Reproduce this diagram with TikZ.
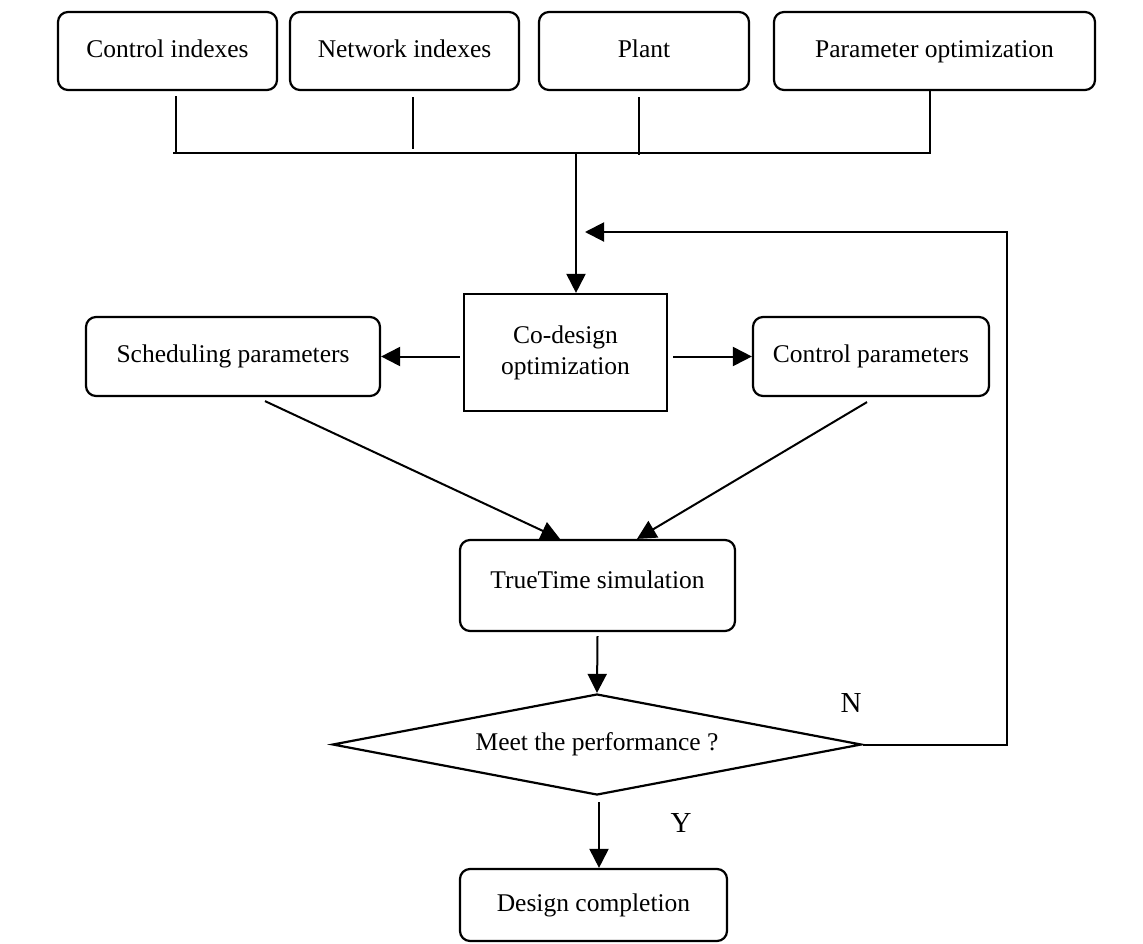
\documentclass[tikz,border=0pt]{standalone}
\usepackage{fontspec}
\setmainfont{Liberation Serif}
\usetikzlibrary{arrows.meta,shapes.geometric}
\begin{document}
\begin{tikzpicture}[x=1pt,y=-1pt,
  every node/.style={font=\fontsize{25.5}{31}\selectfont},
  rbox/.style={draw, line width=2.2pt, rounded corners=10pt, align=center, inner sep=0pt},
  oneline/.style={text height=17pt, text depth=5pt},
  sbox/.style={draw, line width=2.2pt, align=center, inner sep=0pt},
  conn/.style={line width=2pt},
  arr/.style={line width=2pt, -{Triangle[length=19pt,width=19pt]}},
  lbl/.style={font=\fontsize{29}{31}\selectfont}]
\useasboundingbox (0,0) rectangle (1143,943);
% top row
\node[rbox, oneline, minimum width=219pt, minimum height=78pt] (ci) at (167.5,51) {Control indexes};
\node[rbox, oneline, minimum width=229pt, minimum height=78pt] (ni) at (404.5,51) {Network indexes};
\node[rbox, oneline, minimum width=210pt, minimum height=78pt] (pl) at (644,51) {Plant};
\node[rbox, oneline, minimum width=321pt, minimum height=78pt] (po) at (934.5,51) {Parameter optimization};
% middle
\node[sbox, minimum width=203pt, minimum height=117pt] (cd) at (565.5,352.5) {Co-design\\optimization};
\node[rbox, oneline, minimum width=294pt, minimum height=79pt] (sp) at (233,356.5) {Scheduling parameters};
\node[rbox, oneline, minimum width=236pt, minimum height=79pt] (cp) at (871,356.5) {Control parameters};
\node[rbox, text height=17pt, text depth=12pt, minimum width=275pt, minimum height=91pt] (tt) at (597.5,585.5) {TrueTime simulation};
\node[draw, line width=2.2pt, shape=diamond, aspect=5.24, inner sep=0pt,
      minimum width=529pt, minimum height=101pt] (dm) at (597,744.5) {Meet the performance ?};
\node[rbox, oneline, minimum width=267pt, minimum height=72pt] (dc) at (593.5,905) {Design completion};
% labels
\node[lbl] (nl) at (851,703) {N};
\node[lbl] (yl) at (681,823) {Y};
% bus
\coordinate (busL) at (173,153);
\coordinate (busR) at (931,153);
\coordinate (busM) at (576,153);
\draw[conn] ([xshift=8.5pt,yshift=-5pt]ci.south) -- ([xshift=8.5pt]ci.south |- busL);
\draw[conn] ([xshift=8.5pt,yshift=-6pt]ni.south) -- ([xshift=8.5pt,yshift=4pt]ni.south |- busL);
\draw[conn] ([xshift=-5pt,yshift=-6pt]pl.south) -- ([xshift=-5pt,yshift=-2pt]pl.south |- busL);
\draw[conn] ([xshift=-4.5pt]po.south) -- ([xshift=-4.5pt]po.south |- busL);
\draw[line width=2.6pt] (busL) -- (busR);
\draw[arr] (busM) -- (busM |- cd.north);
% co-design outputs
\draw[arr, shorten <=3pt] (cd.west |- sp.east) -- (sp.east);
\draw[arr, shorten <=5pt] (cd.east |- cp.west) -- (cp.west);
% diagonals
\draw[arr] ([xshift=32pt,yshift=-4pt]sp.south) -- ([xshift=-37.5pt]tt.north);
\draw[arr] ([xshift=-4pt,yshift=-5pt]cp.south) -- ([xshift=39.5pt]tt.north);
% flow down
\draw[arr] ([yshift=-4pt]tt.south) -- (dm.north);
\draw[arr] ([xshift=2pt,yshift=-6pt]dm.south) -- ([xshift=2pt]dm.south |- dc.north);
% feedback
\coordinate (fb) at (1007,232);
\coordinate (fbend) at (585,232);
\draw[arr] (dm.east) -| (fb) -- (fbend);
\end{tikzpicture}
\end{document}
